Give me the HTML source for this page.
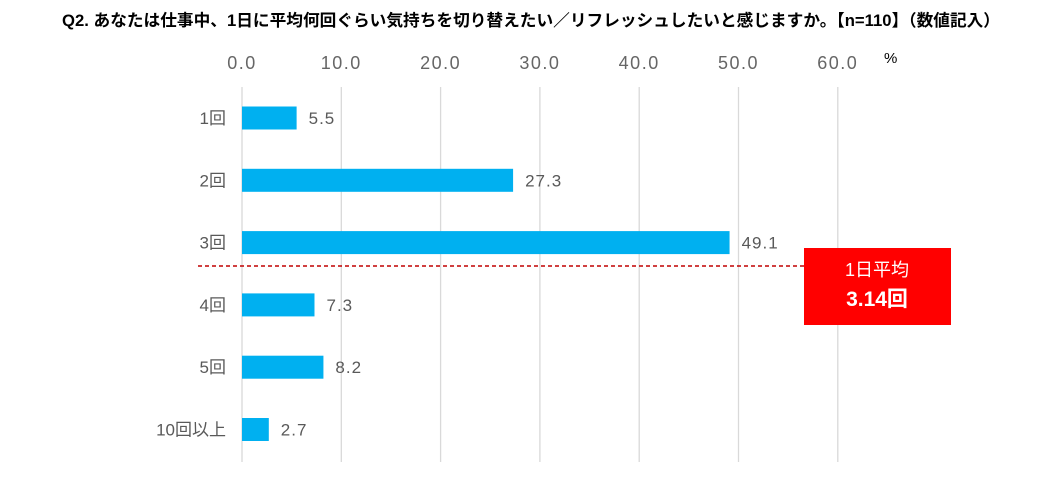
<!DOCTYPE html>
<html><head><meta charset="utf-8"><style>
body{margin:0;background:#fff;width:1056px;height:484px;overflow:hidden;font-family:"Liberation Sans","Noto Sans CJK JP",sans-serif}
</style></head><body>
<svg id="chart" width="1056" height="484" xmlns="http://www.w3.org/2000/svg" font-family="Liberation Sans, Noto Sans CJK JP, sans-serif">
<text x="62" y="26" font-size="16.5" font-weight="bold" fill="#000" textLength="938" lengthAdjust="spacingAndGlyphs">Q2.  あなたは仕事中、1日に平均何回ぐらい気持ちを切り替えたい／リフレッシュしたいと感じますか。【n=110】（数値記入）</text>
<text x="884" y="63" font-size="15" fill="#000">%</text>
<g id="grid"></g><g id="bars"></g>
<line x1="198" y1="266" x2="805" y2="266" stroke="#c00000" stroke-width="1.5" stroke-dasharray="4,3"/>
<rect x="804" y="248" width="147" height="77" fill="#ff0000"/>
<text x="877" y="276" font-size="18" fill="#fff" text-anchor="middle">1日平均</text>
<text x="877" y="306" font-size="21" font-weight="bold" fill="#fff" text-anchor="middle">3.14回</text>
</svg>
<script>
const categories=["1回","2回","3回","4回","5回","10回以上"];
const values=[5.5,27.3,49.1,7.3,8.2,2.7];
const ticks=[0,10,20,30,40,50,60];
const NS="http://www.w3.org/2000/svg";
const x=v=>242+v*9.93;
const y=i=>118+i*62.3;
function mk(t,a,p){const e=document.createElementNS(NS,t);for(const k in a)e.setAttribute(k,a[k]);p.appendChild(e);return e;}
const g=document.getElementById('grid'),b=document.getElementById('bars');
ticks.forEach(t=>{
 const l=mk('line',{x1:x(t),x2:x(t),y1:87,y2:462,stroke:'#d9d9d9','stroke-width':1.3},g);
 
 
 const tx=mk('text',{x:x(t),y:69,'font-size':18,'letter-spacing':1.5,fill:'#666','text-anchor':'middle'},g);
 tx.textContent=t.toFixed(1);
 
 
});
categories.forEach((c,i)=>{
 const r=mk('rect',{x:x(0),y:y(i)-11.5,width:x(values[i])-x(0),height:23,fill:'#00b0f0'},b);
 
 
 const lb=mk('text',{x:226,y:y(i)+6,'font-size':17,fill:'#595959','text-anchor':'end'},b);
 lb.textContent=c;
 
 
 const vl=mk('text',{x:x(values[i])+12,y:y(i)+6,'font-size':17,'letter-spacing':1,fill:'#595959'},b);
 vl.textContent=values[i].toFixed(1);
 
 
});
</script>
</body></html>
